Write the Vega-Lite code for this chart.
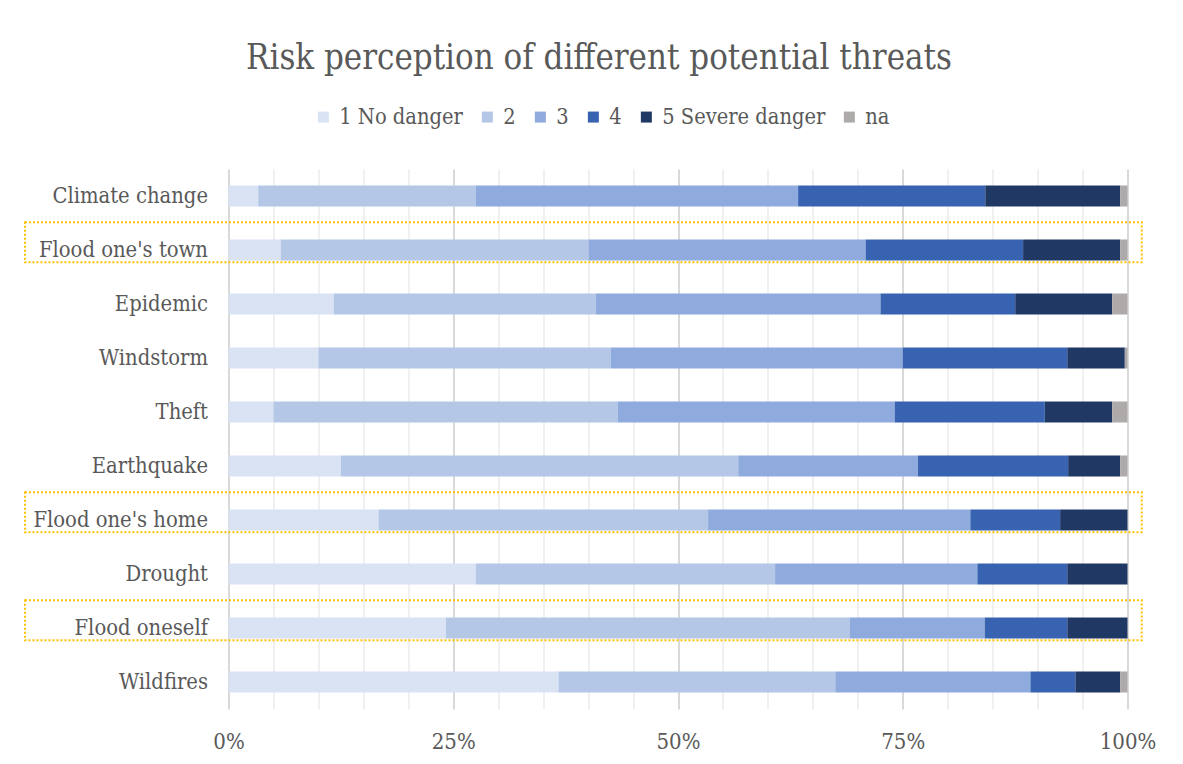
{
  "$schema": "https://vega.github.io/schema/vega-lite/v6.json",
  "autosize": "none",
  "width": 899,
  "height": 540,
  "padding": {"left": 228.5, "top": 169, "right": 55.5, "bottom": 55},
  "background": "white",
  "title": {
    "text": "Risk perception of different potential threats",
    "font": "DejaVu Serif Condensed",
    "fontSize": 34.5,
    "fontWeight": "normal",
    "color": "#595959",
    "anchor": "middle",
    "frame": "group",
    "dx": -79,
    "offset": 30
  },
  "config": {
    "font": "DejaVu Serif Condensed",
    "view": {"stroke": null},
    "axis": {
      "labelFont": "DejaVu Serif Condensed",
      "labelColor": "#595959",
      "labelFontSize": 21.8,
      "ticks": false,
      "domain": false,
      "title": null
    }
  },
  "datasets": {
    "ratings": [
      {"threat": "Climate change", "level": "1 No danger", "share": 3.3},
      {"threat": "Climate change", "level": "2", "share": 24.2},
      {"threat": "Climate change", "level": "3", "share": 35.8},
      {"threat": "Climate change", "level": "4", "share": 20.8},
      {"threat": "Climate change", "level": "5 Severe danger", "share": 15.0},
      {"threat": "Climate change", "level": "na", "share": 0.8},

      {"threat": "Flood one's town", "level": "1 No danger", "share": 5.8},
      {"threat": "Flood one's town", "level": "2", "share": 34.2},
      {"threat": "Flood one's town", "level": "3", "share": 30.8},
      {"threat": "Flood one's town", "level": "4", "share": 17.5},
      {"threat": "Flood one's town", "level": "5 Severe danger", "share": 10.8},
      {"threat": "Flood one's town", "level": "na", "share": 0.8},

      {"threat": "Epidemic", "level": "1 No danger", "share": 11.7},
      {"threat": "Epidemic", "level": "2", "share": 29.2},
      {"threat": "Epidemic", "level": "3", "share": 31.7},
      {"threat": "Epidemic", "level": "4", "share": 15.0},
      {"threat": "Epidemic", "level": "5 Severe danger", "share": 10.8},
      {"threat": "Epidemic", "level": "na", "share": 1.7},

      {"threat": "Windstorm", "level": "1 No danger", "share": 10.0},
      {"threat": "Windstorm", "level": "2", "share": 32.5},
      {"threat": "Windstorm", "level": "3", "share": 32.5},
      {"threat": "Windstorm", "level": "4", "share": 18.3},
      {"threat": "Windstorm", "level": "5 Severe danger", "share": 6.4},
      {"threat": "Windstorm", "level": "na", "share": 0.3},

      {"threat": "Theft", "level": "1 No danger", "share": 5.0},
      {"threat": "Theft", "level": "2", "share": 38.3},
      {"threat": "Theft", "level": "3", "share": 30.8},
      {"threat": "Theft", "level": "4", "share": 16.7},
      {"threat": "Theft", "level": "5 Severe danger", "share": 7.5},
      {"threat": "Theft", "level": "na", "share": 1.7},

      {"threat": "Earthquake", "level": "1 No danger", "share": 12.5},
      {"threat": "Earthquake", "level": "2", "share": 44.2},
      {"threat": "Earthquake", "level": "3", "share": 20.0},
      {"threat": "Earthquake", "level": "4", "share": 16.7},
      {"threat": "Earthquake", "level": "5 Severe danger", "share": 5.8},
      {"threat": "Earthquake", "level": "na", "share": 0.8},

      {"threat": "Flood one's home", "level": "1 No danger", "share": 16.7},
      {"threat": "Flood one's home", "level": "2", "share": 36.7},
      {"threat": "Flood one's home", "level": "3", "share": 29.2},
      {"threat": "Flood one's home", "level": "4", "share": 10.0},
      {"threat": "Flood one's home", "level": "5 Severe danger", "share": 7.5},
      {"threat": "Flood one's home", "level": "na", "share": 0},

      {"threat": "Drought", "level": "1 No danger", "share": 27.5},
      {"threat": "Drought", "level": "2", "share": 33.3},
      {"threat": "Drought", "level": "3", "share": 22.5},
      {"threat": "Drought", "level": "4", "share": 10.0},
      {"threat": "Drought", "level": "5 Severe danger", "share": 6.7},
      {"threat": "Drought", "level": "na", "share": 0},

      {"threat": "Flood oneself", "level": "1 No danger", "share": 24.2},
      {"threat": "Flood oneself", "level": "2", "share": 45.0},
      {"threat": "Flood oneself", "level": "3", "share": 15.0},
      {"threat": "Flood oneself", "level": "4", "share": 9.2},
      {"threat": "Flood oneself", "level": "5 Severe danger", "share": 6.7},
      {"threat": "Flood oneself", "level": "na", "share": 0},

      {"threat": "Wildfires", "level": "1 No danger", "share": 36.7},
      {"threat": "Wildfires", "level": "2", "share": 30.8},
      {"threat": "Wildfires", "level": "3", "share": 21.7},
      {"threat": "Wildfires", "level": "4", "share": 5.0},
      {"threat": "Wildfires", "level": "5 Severe danger", "share": 5.0},
      {"threat": "Wildfires", "level": "na", "share": 0.8}
    ],
    "flood": [
      {"threat": "Flood one's town"},
      {"threat": "Flood one's home"},
      {"threat": "Flood oneself"}
    ]
  },
  "layer": [
    {
      "data": {"name": "ratings"},
      "mark": {"type": "bar"},
      "encoding": {
        "y": {
          "field": "threat",
          "type": "nominal",
          "sort": ["Climate change", "Flood one's town", "Epidemic", "Windstorm", "Theft", "Earthquake", "Flood one's home", "Drought", "Flood oneself", "Wildfires"],
          "scale": {"paddingInner": 0.611, "paddingOuter": 0.3056},
          "axis": {"labelPadding": 21, "grid": false}
        },
        "x": {
          "field": "share",
          "type": "quantitative",
          "stack": "normalize",
          "scale": {"domain": [0, 1], "nice": false},
          "axis": {
            "values": [0, 0.05, 0.1, 0.15, 0.2, 0.25, 0.3, 0.35, 0.4, 0.45, 0.5, 0.55, 0.6, 0.65, 0.7, 0.75, 0.8, 0.85, 0.9, 0.95, 1],
            "format": ".0%",
            "labelExpr": "round(datum.value * 100) % 25 === 0 ? datum.label : ''",
            "labelFlush": false,
            "labelOverlap": false,
            "labelPadding": 22,
            "labelFontSize": 22,
            "grid": true,
            "gridWidth": 2,
            "gridColor": {
              "condition": {"test": "round(datum.value * 100) % 25 === 0", "value": "#d9d9d9"},
              "value": "#f0f0f0"
            }
          }
        },
        "color": {
          "field": "level",
          "type": "nominal",
          "scale": {
            "domain": ["1 No danger", "2", "3", "4", "5 Severe danger", "na"],
            "range": ["#dae3f3", "#b4c7e7", "#8faadc", "#3763b0", "#203864", "#aeaaaa"]
          },
          "legend": {
            "title": null,
            "orient": "none",
            "direction": "horizontal",
            "columns": 6,
            "legendX": 84,
            "legendY": -63,
            "symbolType": "square",
            "symbolSize": 121,
            "symbolStrokeWidth": 0,
            "labelFont": "DejaVu Serif Condensed",
            "labelFontSize": 21.7,
            "labelColor": "#595959",
            "labelOffset": 5,
            "columnPadding": 13,
            "labelLimit": 300
          }
        }
      }
    },
    {
      "data": {"name": "flood"},
      "mark": {
        "type": "rect",
        "fill": null,
        "stroke": "#ffc000",
        "strokeWidth": 2,
        "strokeDash": [2, 2],
        "height": 40,
        "yOffset": -7.7
      },
      "encoding": {
        "y": {
          "field": "threat",
          "type": "nominal",
          "sort": ["Climate change", "Flood one's town", "Epidemic", "Windstorm", "Theft", "Earthquake", "Flood one's home", "Drought", "Flood oneself", "Wildfires"]
        },
        "x": {"datum": -0.2264, "type": "quantitative", "scale": {"domain": [0, 1], "nice": false}},
        "x2": {"datum": 1.0158}
      }
    }
  ]
}
